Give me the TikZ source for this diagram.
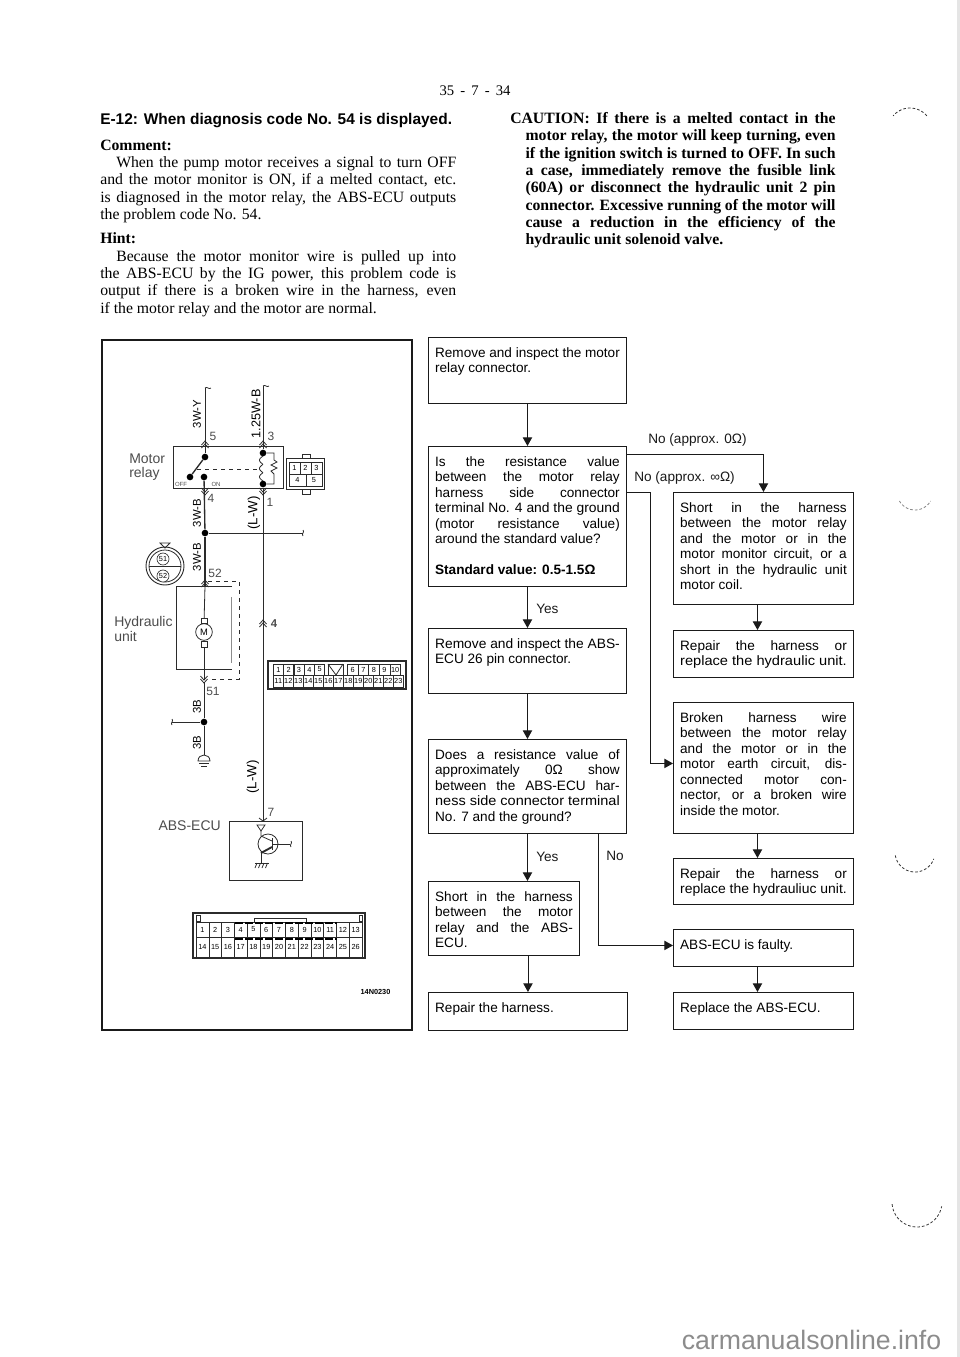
\documentclass[tikz,border=0pt]{standalone}
\usepackage{graphicx}
\usepackage{fontspec}
\setmainfont{Liberation Serif}
\setsansfont{Liberation Sans}
\usetikzlibrary{arrows.meta, positioning, calc}
\definecolor{mInk}{HTML}{1A1A1A}
\definecolor{mWire}{HTML}{2B2B2B}
\colorlet{lightink}{black!70}
\newcommand{\fitline}[1]{\resizebox{\linewidth}{\height}{#1}}
\tikzset{
  flowbox/.style 2 args={draw=mInk, line width=0.7pt, anchor=north west, align=justify,
    inner xsep=5pt, inner ysep=7pt, text height=8pt,
    text width={(#1)*0.75pt-10pt}, text depth={(#2)*0.75pt-22pt},
    font=\sffamily\fontsize{10.2}{11.6}\selectfont},
  flowarrow/.style={draw=mInk, line width=0.7pt, -{Triangle[length=6.5pt,width=7pt]}},
  flowlabel/.style={font=\sffamily\fontsize{10.2}{11}\selectfont, mInk},
  pagetext/.style={anchor=north west, align=justify, inner sep=0pt, text width=267pt,
    font=\fontsize{11.8}{13}\selectfont},
  wire/.style={mWire, line width=0.6pt},
  heavywire/.style={mWire, line width=1pt},
  junction/.style={circle, fill=black, inner sep=0pt, minimum size=5pt},
  wirelabel/.style={font=\sffamily\fontsize{8.5}{9}\selectfont, rotate=90},
  pinlabel/.style={font=\sffamily\fontsize{9}{10}\selectfont, lightink},
  partlabel/.style={font=\sffamily\fontsize{10.5}{11}\selectfont, lightink, align=left, inner sep=0pt},
  pincell/.style={draw=mWire, line width=0.4pt, inner sep=0pt, font=\sffamily\fontsize{5.5}{6}\selectfont},
  scanmark/.style={black!80, line width=0.6pt, dash pattern=on 2pt off 1.5pt},
  sockup/.pic={\draw[wire] (-3.5,4) -- (0,0) -- (3.5,4); \draw[wire] (-3.5,7) -- (0,3) -- (3.5,7);},
  sockdown/.pic={\draw[wire] (-3.5,-4) -- (0,0) -- (3.5,-4); \draw[wire] (-3.5,-7) -- (0,-3) -- (3.5,-7);},
  wireend/.pic={\draw[wire] (-3,0) .. controls (-1,-2) and (1,2) .. (3,0);},
}
\begin{document}
\begin{tikzpicture}[x=0.75pt, y=-0.75pt]
  \useasboundingbox (0,0) rectangle (960,1357);
  \fill[black!10] (957,0) rectangle (960,1357);

  % page text
  \node[font=\fontsize{11}{13}\selectfont] (pagenumber) at (475,91) {35 \,-\, 7 \,-\, 34};
  \node[anchor=west, inner sep=0pt, font=\sffamily\bfseries\fontsize{11.6}{13}\selectfont] (title) at (100,120.5)
    {E-12: When diagnosis code No. 54 is displayed.};
  \node[pagetext] (comment) at (100,139.5) {\textbf{Comment:}\\
    \hspace*{12pt}When the pump motor receives a signal to turn OFF\linebreak
    and the motor monitor is ON, if a melted contact, etc.\linebreak
    is diagnosed in the motor relay, the ABS-ECU outputs\linebreak
    the problem code No. 54.};
  \node[pagetext] (hint) at (100,232.5) {\textbf{Hint:}\\
    \hspace*{12pt}Because the motor monitor wire is pulled up into\linebreak
    the ABS-ECU by the IG power, this problem code is\linebreak
    output if there is a broken wire in the harness, even\linebreak
    if the motor relay and the motor are normal.};
  \node[pagetext, text width=244pt, font=\bfseries\fontsize{11.8}{13}\selectfont] (caution) at (510,112)
    {\makebox[\linewidth][s]{CAUTION: If there is a melted contact in the}\\
    \hspace*{11.5pt}\parbox[t]{232.5pt}{motor relay, the motor will keep turning, even\linebreak
    if the ignition switch is turned to OFF. In such\linebreak
    a case, immediately remove the fusible link\linebreak
    (60A) or disconnect the hydraulic unit 2 pin\linebreak
    connector. Excessive running of the motor will\linebreak
    cause a reduction in the efficiency of the\linebreak
    hydraulic unit solenoid valve.}};

  % flow chart
  \node[flowbox={198}{66}] (inspectrelay) at (428,337)
    {\fitline{Remove and inspect the motor}\linebreak relay connector.};
  \node[flowbox={198}{140}] (checkresist) at (428,446)
    {Is the resistance value\linebreak between the motor relay\linebreak harness side connector\linebreak
    \fitline{terminal No. 4 and the ground}\linebreak (motor resistance value)\linebreak around the standard value?\\[11.6pt]
    \textbf{Standard value: 0.5-1.5Ω}};
  \node[flowbox={198}{65}] (inspectecu) at (428,628)
    {\fitline{Remove and inspect the ABS-}\linebreak ECU 26 pin connector.};
  \node[flowbox={198}{94}] (checkzero) at (428,739)
    {Does a resistance value of\linebreak approximately 0Ω show\linebreak between the ABS-ECU har-\linebreak
    \fitline{ness side connector terminal}\linebreak No. 7 and the ground?};
  \node[flowbox={151}{74}] (shortecu) at (428,881)
    {Short in the harness\linebreak between the motor\linebreak relay and the ABS-\linebreak ECU.};
  \node[flowbox={199}{38}] (repairharness) at (428,992) {Repair the harness.};
  \node[flowbox={180}{112}] (shortmotor) at (673,492)
    {Short in the harness\linebreak between the motor relay\linebreak and the motor or in the\linebreak
    motor monitor circuit, or a\linebreak short in the hydraulic unit\linebreak motor coil.};
  \node[flowbox={180}{47}] (repairunit) at (673,630)
    {Repair the harness or\linebreak \fitline{replace the hydraulic unit.}};
  \node[flowbox={180}{131}] (brokenwire) at (673,702)
    {Broken harness wire\linebreak between the motor relay\linebreak and the motor or in the\linebreak
    motor earth circuit, dis-\linebreak connected motor con-\linebreak nector, or a broken wire\linebreak inside the motor.};
  \node[flowbox={180}{46}] (repairagain) at (673,858)
    {Repair the harness or\linebreak \fitline{replace the hydrauliuc unit.}};
  \node[flowbox={180}{37}] (ecufaulty) at (673,929) {ABS-ECU is faulty.};
  \node[flowbox={180}{37}] (replaceecu) at (673,992) {Replace the ABS-ECU.};

  \coordinate (brokenjoint) at (650,492);
  \draw[flowarrow] (inspectrelay) -- (checkresist);
  \draw[flowarrow] (checkresist) -- (inspectecu);
  \draw[flowarrow] (inspectecu) -- (checkzero);
  \draw[flowarrow] (checkzero.south) -- (checkzero.south |- shortecu.north);
  \draw[flowarrow] (repairharness.north |- shortecu.south) -- (repairharness.north);
  \draw[flowarrow] ([yshift=-6pt]checkresist.north east) -| (shortmotor.north);
  \draw[flowarrow] ([yshift=-34.5pt]checkresist.north east) -- (brokenjoint) |- ([yshift=3.4pt]brokenwire.west);
  \draw[flowarrow] ([xshift=53pt]checkzero.south) |- ([yshift=1.9pt]ecufaulty.west);
  \draw[flowarrow] ([xshift=-4.5pt]shortmotor.south) -- ([xshift=-4.5pt]repairunit.north);
  \draw[flowarrow] ([xshift=-4.5pt]brokenwire.south) -- ([xshift=-4.5pt]repairagain.north);
  \draw[flowarrow] ([xshift=-4.5pt]ecufaulty.south) -- ([xshift=-4.5pt]replaceecu.north);

  \node[flowlabel, anchor=west, inner sep=0pt] (zerolabel) at (648,440) {No (approx. 0Ω)};
  \node[flowlabel, anchor=west, inner sep=0pt] (openlabel) at (634,478) {No (approx. ∞Ω)};
  \node[flowlabel, anchor=west, inner sep=0pt] (yeslabelone) at (536,609) {Yes};
  \node[flowlabel, anchor=west, inner sep=0pt] (yeslabeltwo) at (536,857) {Yes};
  \node[flowlabel, anchor=west, inner sep=0pt] (nolabel) at (606,856) {No};

  % wiring diagram
  \draw[line width=1.1pt, mInk] (102,340) rectangle (412,1030);

  \node[draw=mWire, line width=0.5pt, minimum width=82.5pt, minimum height=31.5pt, inner sep=0pt] (relaybox) at (228,467) {};
  \node[partlabel, anchor=west] (relaylabel) at (129,467) {Motor\\relay};
  \node[font=\sffamily\fontsize{4.5}{5}\selectfont, lightink] (offlabel) at (181,484) {OFF};
  \node[font=\sffamily\fontsize{4.5}{5}\selectfont, lightink] (onlabel) at (216,484) {ON};

  \node[junction] (contacttop) at (205,457) {};
  \node[junction] (contactoff) at (190,477) {};
  \node[junction] (contacton) at (204,477) {};
  \node[junction] (coiltop) at (263,453) {};
  \node[junction] (coilbot) at (263,484) {};
  \node[junction] (splitleft) at (205,533) {};
  \node[junction] (splitlow) at (204,722) {};
  \coordinate (topleft) at (205,388);
  \coordinate (topright) at (263,386);
  \coordinate (rightend) at (303,533);
  \coordinate (lowend) at (172,722);
  \coordinate (groundtop) at (204,758);
  \coordinate (eculead) at (263,821);

  \draw[wire] (topleft) -- (contacttop);
  \draw[wire] (topright) -- (coiltop);
  \draw[wire] (coilbot) -- (eculead);
  \draw[heavywire] (contactoff) -- (contacttop);
  \draw[heavywire] (contacton) -- (splitleft);
  \draw[wire] (splitleft) -- (rightend);
  \draw[heavywire] (splitleft) -- (205,586);
  \draw[wire, dashed] (197,469) -- (258,469);
  \draw[wire] plot[domain=0:540, samples=50] ({263-3.5*abs(sin(\x))}, {456+\x/540*25});
  \draw[wire] (coiltop) -- (274,453) -- (274,460) -- (277,462) -- (271,465) -- (277,468) -- (271,471) -- (274,474) -- (274,484) -- (coilbot);
  \pic at (208,388) {wireend};
  \pic at (266,386) {wireend};
  \pic[rotate=90] at (303,533) {wireend};
  \pic[rotate=90] at (172,722) {wireend};
  \pic at (205,441) {sockup};
  \pic at (263,441) {sockup};
  \pic at (205,495) {sockdown};
  \pic at (263,495) {sockdown};
  \pic at (205,580) {sockup};
  \pic at (263,620) {sockup};
  \pic at (204,683) {sockdown};

  \node[wirelabel] (labelyellow) at (197,414) {3W-Y};
  \node[wirelabel, font=\sffamily\fontsize{9.5}{10}\selectfont] (labelblack) at (256,414) {1.25W-B};
  \node[wirelabel] (labelupper) at (197,513) {3W-B};
  \node[wirelabel] (labellower) at (197,557) {3W-B};
  \node[wirelabel, font=\sffamily\fontsize{10}{10}\selectfont] (labelbluea) at (254,513) {(L-W)};
  \node[wirelabel, font=\sffamily\fontsize{10}{10}\selectfont] (labelblueb) at (253,777) {(L-W)};
  \node[wirelabel] (labelgnda) at (197,707) {3B};
  \node[wirelabel] (labelgndb) at (197,743) {3B};
  \node[pinlabel] (pinfive) at (213,436) {5};
  \node[pinlabel] (pinthree) at (271,436) {3};
  \node[pinlabel] (pinfour) at (211,498) {4};
  \node[pinlabel] (pinone) at (270,502) {1};
  \node[pinlabel] (pinfiftytwo) at (215,573) {52};
  \node[pinlabel] (pinfiftyone) at (213,691) {51};
  \node[pinlabel, font=\sffamily\bfseries\fontsize{8.5}{10}\selectfont] (plugfour) at (274,624) {4};
  \node[pinlabel] (pinseven) at (271,812) {7};

  % inspection mark
  \draw[wire, line width=0.7pt] (165,566) circle[radius=19];
  \draw[wire] (165,566) circle[radius=16];
  \draw[wire] (149,566) -- (181,566);
  \draw[wire] (160,543) -- (170,543) -- (165,548) -- cycle;
  \node[draw=mWire, circle, line width=0.5pt, fill=white, inner sep=0pt, minimum size=9pt, font=\sffamily\fontsize{5.5}{6}\selectfont] (markone) at (163,559) {51};
  \node[draw=mWire, circle, line width=0.5pt, fill=white, inner sep=0pt, minimum size=9pt, font=\sffamily\fontsize{5.5}{6}\selectfont] (marktwo) at (163,576) {52};

  % hydraulic unit
  \node[partlabel, anchor=west] (unitlabel) at (114,629) {Hydraulic\\unit};
  \draw[wire] (232,586) -- (176,586) -- (176,669) -- (232,669);
  \draw[black!45, line width=0.5pt] (231,597) -- (231,663);
  \draw[wire, dashed] (208,581) -- (239,581) -- (239,679) -- (210,679);
  \node[draw=mWire, circle, line width=0.6pt, fill=white, inner sep=0pt, minimum size=12.5pt, font=\sffamily\fontsize{7}{8}\selectfont] (motor) at (204,632) {M};
  \draw[wire] (205,586) -- (motor.north);
  \draw[wire] (motor.south) -- (204,680);
  \draw[wire, fill=white] (201,618) rectangle (207,623.5);
  \draw[wire, fill=white] (201,641) rectangle (207,647);
  \draw[wire] (204,683) -- (splitlow) -- (groundtop);
  \draw[wire] (splitlow) -- (lowend);
  \draw[wire, fill=white] (198,761) .. controls (198,753) and (210,753) .. (210,761) -- cycle;
  \draw[wire] (199,763) -- (209,763) (201,766) -- (207,766);

  % small relay connector
  \draw[wire] (302,458) rectangle (310,454) (302,489) rectangle (310,494);
  \draw[wire, line width=0.7pt] (286,458) rectangle (324,489);
  \foreach \n [count=\i from 0] in {1,2,3}
    \node[pincell, minimum width=8.2pt, minimum height=9pt] (relaypin\n) at ({294.5+11*\i},468) {\n};
  \node[pincell, minimum width=13pt, minimum height=9pt] (relaypinfour) at (297.5,480) {4};
  \node[pincell, minimum width=11.7pt, minimum height=9pt] (relaypinfive) at (314,480) {5};

  % ECU connector, 23 pins
  \draw[wire, line width=0.8pt] (268,661) rectangle (406,689);
  \foreach \n [count=\i from 0] in {1,2,3,4,5}
    \node[pincell, minimum width=7.7pt, minimum height=8.2pt] (smallpin\n) at ({278.3+10.33*\i},669.5) {\n};
  \foreach \n [count=\i from 0] in {6,7,8,9,10}
    \node[pincell, minimum width=7.9pt, minimum height=8.2pt] (smallpin\n) at ({352.7+10.6*\i},669.5) {\n};
  \foreach \n [count=\i from 0] in {11,12,...,23}
    \node[pincell, minimum width=7.5pt, minimum height=9pt] (smallpin\n) at ({278.3+10*\i},681) {\n};
  \draw[wire] (328,664) rectangle (343,675);
  \draw[wire] (328,664) -- (336,675) -- (343,664);

  % ABS-ECU
  \node[partlabel, anchor=east] (eculabel) at (221,826) {ABS-ECU};
  \node[draw=mWire, line width=0.5pt, minimum width=55pt, minimum height=44.5pt, inner sep=0pt] (ecubox) at (265.5,850.5) {};
  \draw[wire] (eculead) ++(-4,-3) -- (eculead) -- ++(4,-3);
  \draw[wire] (257,825) -- (265,825) -- (261,831) -- cycle;
  \draw[wire] (268,844) circle[radius=10];
  \draw[wire] (261,831) -- (261,836) -- (272,841);
  \draw[wire] (272,838) -- (272,850);
  \draw[heavywire, line width=1.4pt] (272,847) -- (261,853);
  \draw[wire] (261,853) -- (261,863);
  \draw[wire] (272,844) -- (290,844);
  \pic[rotate=90] at (291,844) {wireend};
  \draw[wire] (255,863) -- (269,863);
  \foreach \i in {0,1,2,3}
    \draw[wire] ({257+\i*3.5},863) -- ({255+\i*3.5},868);

  % ECU connector, 26 pins
  \draw[wire, line width=0.9pt] (193,913) rectangle (365,958);
  \foreach \n [count=\i from 0] in {1,2,...,13}
    \node[pincell, minimum width=9.6pt, minimum height=11.2pt] (largepin\n) at ({202.4+12.77*\i},929.5) {\n};
  \foreach \n [count=\i from 0] in {14,15,...,26}
    \node[pincell, minimum width=9.6pt, minimum height=15pt] (largepin\n) at ({202.4+12.77*\i},947) {\n};
  \draw[wire] (196,922) -- (254,922) -- (254,918) -- (306,918) -- (306,922) -- (362,922);
  \draw[black, line width=1.5pt, dash pattern=on 6pt off 1.5pt] (235,923) -- (337,923);
  \draw[black, line width=1.5pt, dash pattern=on 6pt off 1.5pt] (235,939) -- (337,939);
  \draw[wire] (196,915) rectangle (200,921);
  \draw[wire] (359,915) rectangle (362,921);
  \node[font=\sffamily\bfseries\fontsize{5.5}{6}\selectfont, inner sep=0pt] (partnumber) at (375.5,992) {14N0230};

  % scan marks and footer
  \draw[scanmark] plot[domain=40:140, samples=20] ({910+22*cos(\x)}, {130-22*sin(\x)});
  \draw[scanmark, black!50] plot[domain=210:330, samples=20] ({915+18*cos(\x)}, {492-18*sin(\x)});
  \draw[scanmark] plot[domain=190:340, samples=25] ({915+20*cos(\x)}, {852-20*sin(\x)});
  \draw[scanmark] plot[domain=185:350, samples=25] ({917+25*cos(\x)}, {1202-25*sin(\x)});
  \node[font=\sffamily\fontsize{20}{22}\selectfont, black!45, inner sep=0pt] (footer) at (811.5,1340) {carmanualsonline.info};
\end{tikzpicture}
\end{document}
